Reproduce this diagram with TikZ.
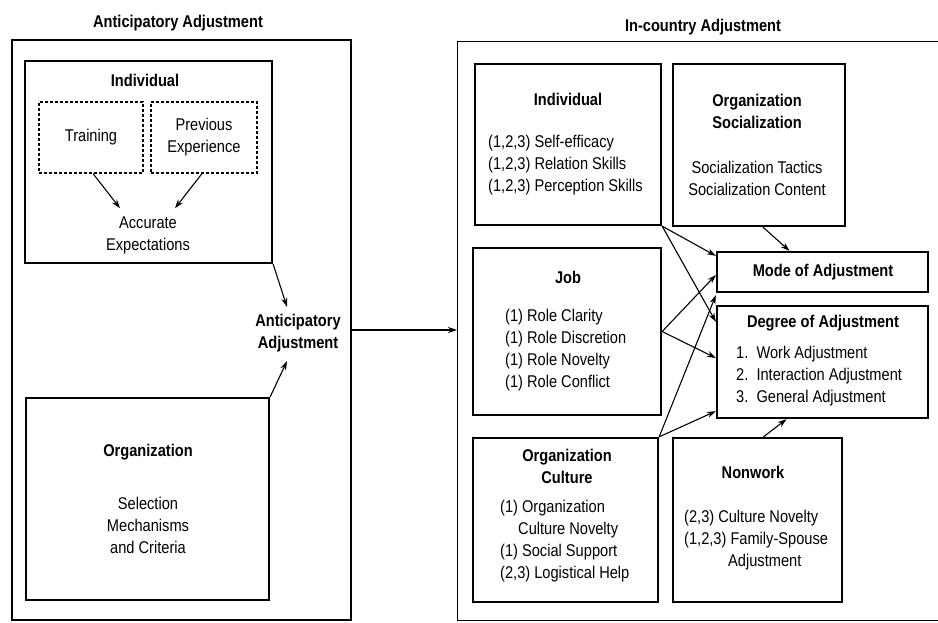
\documentclass[tikz,border=0pt]{standalone}
\usepackage{fontspec}
\setmainfont{Liberation Sans}[FakeStretch=0.86]
\usetikzlibrary{arrows.meta,calc}

\begin{document}
\begin{tikzpicture}[x=1pt,y=-1pt,
  box/.style={draw, line width=2.3pt, inner sep=0pt},
  outer/.style={draw, line width=1.4pt, inner sep=0pt},
  dbox/.style={draw, line width=1.2pt, dash pattern=on 3pt off 2pt, inner sep=0pt},
  link/.style={-{Stealth[length=9pt,width=6pt]}, line width=1.1pt},
  txt/.style={font=\fontsize{17}{22}\selectfont, align=center, inner sep=0pt},
  lst/.style={font=\fontsize{17}{22}\selectfont, align=left, inner sep=0pt, anchor=west},
  ttl/.style={font=\bfseries\fontsize{17}{22}\selectfont, align=center, inner sep=0pt},
]
\useasboundingbox (0,0) rectangle (938,622);
\clip (0,0) rectangle (938,622);

% ---------- anticipatory adjustment panel ----------
\node[ttl] (ltitle) at (178,23) {Anticipatory Adjustment};
\node[outer, minimum width=339pt, minimum height=580pt] (lout) at (181.5,330) {};

\node[box, minimum width=247pt, minimum height=202pt] (lind) at (148.5,162) {};
\node[ttl] (lindt) at (145,80) {Individual};
\node[dbox, minimum width=104pt, minimum height=71pt] (train) at (91,137.5) {};
\node[txt] (traint) at (91,137) {Training};
\node[dbox, minimum width=106pt, minimum height=71pt] (prev) at (204,137.5) {};
\node[txt] (prevt) at (204,137) {Previous\\Experience};
\node[txt] (acc) at (148,235) {Accurate\\Expectations};

\node[box, minimum width=243pt, minimum height=202pt] (lorg) at (147.5,499) {};
\node[ttl] (lorgt) at (148,452) {Organization};
\node[txt] (lorgi) at (148,525) {Selection\\Mechanisms\\and Criteria};

\node[ttl] (antic) at (298,333) {Anticipatory\\Adjustment};

\draw[link] ($(train.south)+(2,0)$) -- ($(acc.north)+(-28,-8)$);
\draw[link] ($(prev.south)+(-2,0)$) -- ($(acc.north)+(27,-8)$);
\draw[link] (lind.south east) -- ($(antic.north)+(-11,-7)$);
\draw[link] (lorg.north east) -- ($(antic.south)+(-11,9)$);

% ---------- in-country adjustment panel ----------
\node[ttl] (rtitle) at (703,27) {In-country Adjustment};
\node[outer, minimum width=500pt, minimum height=579pt, anchor=north west] (rout) at (457,41) {};

\draw[link] (lout.east) -- (lout.east -| rout.west);

% individual
\node[box, minimum width=186pt, minimum height=161pt] (rind) at (568,144.5) {};
\node[ttl] (rindt) at (568,99) {Individual};
\node[lst] (rindi) at (488,165) {(1,2,3) Self-efficacy\\(1,2,3) Relation Skills\\(1,2,3) Perception Skills};

% organization socialization
\node[box, minimum width=172pt, minimum height=162pt] (osoc) at (759,145) {};
\node[ttl] (osoct) at (757,111) {Organization\\Socialization};
\node[txt] (osoci) at (757,178) {Socialization Tactics\\Socialization Content};

% job
\node[box, minimum width=188pt, minimum height=167pt] (job) at (567,331.5) {};
\node[ttl] (jobt) at (568,277) {Job};
\node[lst] (jobi) at (505,350) {(1) Role Clarity\\(1) Role Discretion\\(1) Role Novelty\\(1) Role Conflict};

% outcomes
\node[box, minimum width=211pt, minimum height=40pt] (mode) at (822.5,272) {};
\node[ttl] (modet) at (823,272) {Mode of Adjustment};
\node[box, minimum width=211pt, minimum height=112pt] (deg) at (822.5,362) {};
\node[ttl] (degt) at (823,323) {Degree of Adjustment};
\node[lst] (degi) at (736,376) {1.\ \ Work Adjustment\\2.\ \ Interaction Adjustment\\3.\ \ General Adjustment};

% organization culture
\node[box, minimum width=185pt, minimum height=164pt] (oc) at (565.5,520) {};
\node[ttl] (oct) at (567,466) {Organization\\Culture};
\node[lst] (oci) at (500,541) {(1) Organization\\\hspace*{18pt}Culture Novelty\\(1) Social Support\\(2,3) Logistical Help};

% nonwork
\node[box, minimum width=169pt, minimum height=164pt] (nw) at (757.5,520) {};
\node[ttl] (nwt) at (753,472) {Nonwork};
\node[lst] (nwi) at (684,540) {(2,3) Culture Novelty\\(1,2,3) Family-Spouse\\\hspace*{44pt}Adjustment};

% influences on adjustment
\draw[link] (rind.south east) -- ($(mode.north west)+(0,5)$);
\draw[link] (rind.south east) -- ($(deg.north west)+(0,17)$);
\draw[link] (job.east) -- ($(mode.west)+(0,3)$);
\draw[link] (job.east) -- ($(deg.west)+(0,-4)$);
\draw[link] (oc.north east) -- ($(mode.south west)+(0,2)$);
\draw[link] (oc.north east) -- ($(deg.south west)+(0,-8)$);
\draw[link] ($(osoc.south)+(4,0)$) -- ($(mode.north)+(-33,0)$);
\draw[link] ($(nw.north)+(6,0)$) -- ($(deg.south)+(-36,0)$);
\end{tikzpicture}
\end{document}
